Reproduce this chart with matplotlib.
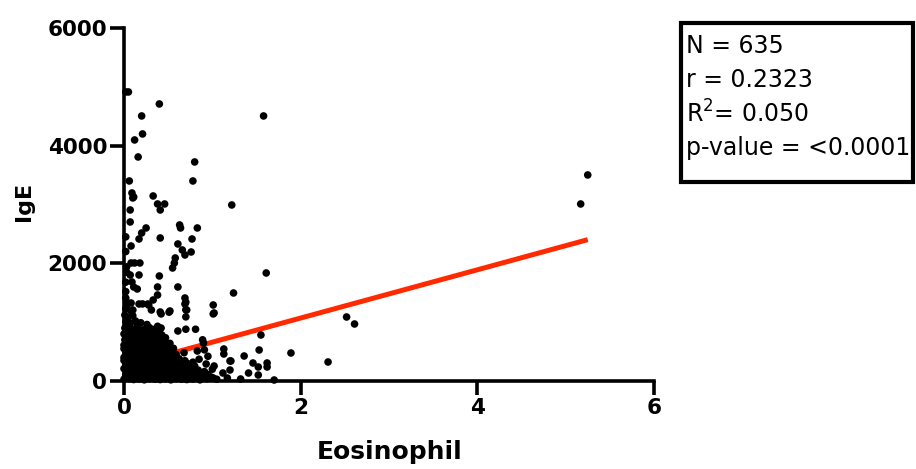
import matplotlib.pyplot as plt
from matplotlib.patches import Rectangle
import numpy as np

# Eosinophil vs IgE
# scattered points away from the dense cluster
eos_outer = [0.02, 0.40, 0.20, 1.58, 0.21, 0.12, 0.05, 0.16, 0.80, 0.78, 0.06, 0.09,
             0.11, 0.33, 0.10, 0.38, 0.46, 0.41, 0.07, 0.07, 0.25, 0.20, 0.17, 0.08,
             0.41, 0.63, 0.64, 0.83, 0.61, 0.77, 0.66, 0.69, 0.76, 0.58, 0.57, 0.55,
             0.08, 0.12, 0.18, 0.07, 0.17, 0.40, 0.09, 0.11, 0.15, 0.38, 0.61, 0.38,
             0.33, 0.02, 0.08, 0.17, 0.27, 0.69, 0.69, 0.71, 1.01, 0.10, 0.31, 0.41,
             0.52, 1.61, 1.24, 1.22, 5.25, 5.17, 2.52, 2.61, 1.55, 1.53, 1.89, 2.31,
             1.02, 1.46, 1.62, 1.62, 1.52, 1.41, 1.52, 1.70, 1.32, 1.21, 1.36, 0.90,
             1.13, 1.13, 1.20, 1.02, 0.93, 1.20, 1.12, 1.01, 1.17,
             0.02, 0.02, 0.03, 0.03, 0.02, 0.02, 0.03, 0.02,
             0.21, 0.28, 0.70, 0.70, 0.70, 0.42, 0.51, 1.01, 0.15, 0.38, 0.42,
             0.61, 0.70, 0.81, 0.28, 0.40, 0.44, 0.89, 0.91, 0.68, 0.78, 0.83, 0.72,
             0.85, 0.95, 0.80, 1.00]
ige_outer = [4913, 4709, 4505, 4505, 4199, 4097, 4913, 3808, 3723, 3400, 3400, 3196,
             3128, 3145, 3111, 3009, 3009, 2907, 2907, 2703, 2601, 2516, 2414, 2295,
             2431, 2652, 2601, 2601, 2329, 2414, 2227, 2142, 2193, 2091, 2006, 1921,
             2006, 2006, 2006, 1802, 1802, 1785, 1683, 1598, 1564, 1598, 1598, 1462,
             1377, 1411, 1326, 1309, 1309, 1411, 1309, 1207, 1292, 1207, 1207, 1173,
             1190, 1836, 1496, 2992, 3502, 3009, 1088, 969, 782, 527, 476, 323,
             1156, 306, 306, 238, 238, 136, 102, 17, 34, 340, 425, 646,
             544, 459, 340, 255, 289, 187, 136, 51, 51,
             2450, 2200, 1940, 1850, 1680, 1520, 1340, 1230,
             1310, 1290, 1340, 1210, 1090, 1140, 1170, 1140, 970, 930, 900,
             850, 880, 880, 690, 660, 560, 700, 530, 480, 320, 510, 240,
             370, 420, 150, 200]

# dense cluster near the origin
eos_cluster = [0.01, 0.05, 0.10,
               0.02, 0.07, 0.13, 0.19, 0.26,
               0.01, 0.05, 0.11, 0.16, 0.22, 0.29, 0.35,
               0.00, 0.04, 0.09, 0.14, 0.20, 0.25, 0.31, 0.37, 0.43,
               0.01, 0.06, 0.12, 0.17, 0.23, 0.28, 0.34, 0.40, 0.45,
               0.00, 0.05, 0.10, 0.15, 0.21, 0.26, 0.32, 0.38, 0.44, 0.49,
               0.02, 0.07, 0.12, 0.18, 0.24, 0.30, 0.35, 0.41, 0.47, 0.53,
               0.00, 0.05, 0.10, 0.16, 0.21, 0.27, 0.33, 0.39, 0.45, 0.51, 0.57, 0.62,
               0.02, 0.07, 0.13, 0.18, 0.24, 0.30, 0.36, 0.42, 0.48, 0.54, 0.60, 0.66, 0.72,
               0.00, 0.05, 0.11, 0.16, 0.22, 0.28, 0.34, 0.40, 0.46, 0.52, 0.58, 0.64, 0.70,
               0.77, 0.84,
               0.02, 0.08, 0.13, 0.19, 0.25, 0.31, 0.37, 0.43, 0.49, 0.55, 0.61, 0.67, 0.73,
               0.80, 0.88, 0.95,
               0.00, 0.06, 0.11, 0.17, 0.23, 0.29, 0.35, 0.41, 0.47, 0.53, 0.59, 0.65, 0.71,
               0.78, 0.86, 0.94, 1.05]
ige_cluster = [1120, 1080, 1110,
               1010, 980, 1020, 990, 960,
               900, 920, 880, 910, 870, 905, 880,
               800, 780, 820, 790, 810, 770, 800, 820, 780,
               700, 720, 690, 710, 680, 705, 720, 690, 700,
               610, 590, 600, 620, 580, 610, 600, 590, 615, 590,
               500, 520, 490, 510, 480, 505, 520, 490, 510, 480,
               400, 410, 390, 420, 400, 380, 410, 395, 405, 385, 400, 380,
               300, 290, 310, 300, 285, 315, 295, 305, 290, 310, 300, 285, 295,
               210, 195, 200, 215, 190, 205, 200, 185, 210, 195, 200, 215, 190,
               205, 185,
               110, 120, 100, 115, 105, 120, 95, 110, 125, 100, 110, 120, 95,
               115, 105, 110,
               30, 40, 25, 35, 20, 40, 30, 25, 35, 20, 40, 30, 25,
               35, 20, 40, 30]

# more cluster points sitting between the rows above
eos_cluster2 = [0.03, 0.08,
                0.03, 0.08, 0.14, 0.19, 0.25, 0.32, 0.40,
                0.02, 0.07, 0.12, 0.18, 0.23, 0.29, 0.35, 0.41, 0.47,
                0.03, 0.08, 0.13, 0.19, 0.24, 0.30, 0.36, 0.42, 0.47, 0.52,
                0.00, 0.05, 0.10, 0.15, 0.21, 0.27, 0.33, 0.38, 0.44, 0.50, 0.56,
                0.03, 0.08, 0.13, 0.19, 0.24, 0.30, 0.36, 0.42, 0.48, 0.54, 0.59,
                0.00, 0.05, 0.10, 0.16, 0.21, 0.27, 0.33, 0.39, 0.45, 0.51, 0.57, 0.63, 0.69,
                0.03, 0.08, 0.14, 0.19, 0.25, 0.31, 0.37, 0.43, 0.49, 0.55, 0.61, 0.67, 0.73,
                0.80,
                0.03, 0.09, 0.14, 0.20, 0.26, 0.32, 0.38, 0.44, 0.50, 0.56, 0.62, 0.68, 0.75,
                0.83, 0.91,
                0.03, 0.09, 0.14, 0.20, 0.26, 0.32, 0.38, 0.44, 0.50, 0.56, 0.62, 0.68, 0.75,
                0.82, 0.90, 0.99]
ige_cluster2 = [1250, 1190,
                850, 860, 840, 855, 845, 835, 850,
                750, 740, 760, 745, 755, 740, 760, 745, 735,
                650, 640, 660, 645, 655, 640, 660, 645, 650, 640,
                550, 560, 545, 555, 540, 560, 550, 545, 560, 545, 555,
                450, 460, 445, 455, 440, 460, 450, 445, 455, 440, 450,
                350, 360, 345, 355, 340, 360, 350, 345, 355, 340, 350, 360, 345,
                250, 260, 245, 255, 240, 260, 250, 245, 255, 240, 250, 260, 245,
                255,
                160, 150, 165, 155, 160, 150, 165, 155, 160, 150, 165, 155, 160,
                150, 160,
                70, 60, 75, 65, 70, 60, 75, 65, 70, 60, 75, 65, 70,
                60, 75, 65]

# linear regression shown in the chart
fit_slope = 410
fit_intercept = 250

stats_lines = ['N = 635', 'r = 0.2323', r'R$^{2}$= 0.050', 'p-value = <0.0001']

eos = np.array(eos_outer + eos_cluster + eos_cluster2)
ige = np.array(ige_outer + ige_cluster + ige_cluster2)

fig = plt.figure(figsize=(9.16, 4.69), dpi=100)
ax = fig.add_axes([124 / 916, 88 / 469, 530 / 916, 353 / 469])

fit_x = np.array([eos.min(), eos.max()])
ax.plot(fit_x, fit_intercept + fit_slope * fit_x, color='#ff2a00', lw=3.6,
        solid_capstyle='butt', zorder=2)
ax.scatter(eos, ige, s=30, color='black', edgecolors='none', zorder=3, clip_on=False)

ax.set_xlim(0, 6)
ax.set_ylim(0, 6000)
ax.set_xticks([0, 2, 4, 6])
ax.set_yticks([0, 2000, 4000, 6000])
for side in ['top', 'right']:
    ax.spines[side].set_visible(False)
for side in ['left', 'bottom']:
    ax.spines[side].set_linewidth(2.6)
ax.tick_params(width=2.6, length=10, labelsize=15.5, pad=2)
for lab in ax.get_xticklabels() + ax.get_yticklabels():
    lab.set_fontweight('bold')

fig.text(390 / 916, 1 - 452 / 469, 'Eosinophil', fontsize=18, fontweight='bold',
         ha='center', va='center')
fig.text(24 / 916, 1 - 201 / 469, 'IgE', fontsize=16, fontweight='bold',
         rotation=90, ha='center', va='center')

# statistics box
fig.add_artist(Rectangle((681 / 916, 1 - 182 / 469), 232 / 916, 159 / 469,
                         transform=fig.transFigure, facecolor='white',
                         edgecolor='black', lw=3))
line_y = [46, 80, 114, 148]
for txt, y in zip(stats_lines, line_y):
    fig.text(686 / 916, 1 - y / 469, txt, fontsize=17, ha='left', va='center')

fig.savefig('out.png', dpi=100)
